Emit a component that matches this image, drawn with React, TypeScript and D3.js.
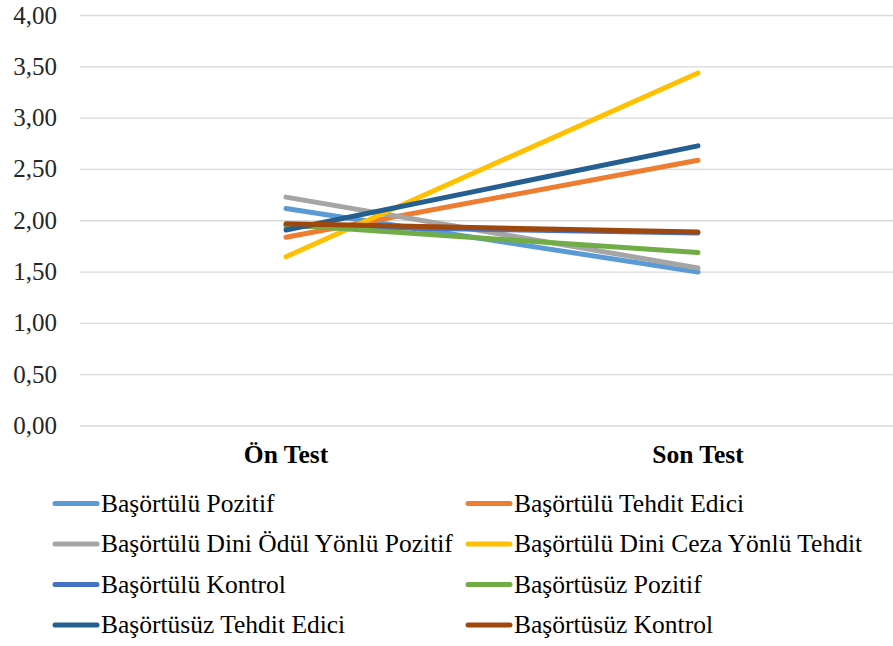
import React from "react";
import * as d3 from "d3";

const categories = ["Ön Test", "Son Test"];
const seriesNames = [
  "Başörtülü Pozitif",
  "Başörtülü Tehdit Edici",
  "Başörtülü Dini Ödül Yönlü Pozitif",
  "Başörtülü Dini Ceza Yönlü Tehdit",
  "Başörtülü Kontrol",
  "Başörtüsüz Pozitif",
  "Başörtüsüz Tehdit Edici",
  "Başörtüsüz Kontrol",
];
const onTest = [2.12, 1.84, 2.23, 1.65, 1.95, 1.96, 1.91, 1.97];
const sonTest = [1.5, 2.59, 1.54, 3.44, 1.88, 1.69, 2.73, 1.89];
const colors = ["#5B9BD5", "#ED7D31", "#A5A5A5", "#FFC000", "#4472C4", "#70AD47", "#255E91", "#9E480E"];
const yTicks = [0, 0.5, 1, 1.5, 2, 2.5, 3, 3.5, 4];

const W = 893;
const H = 646;

export default function App() {
  const x = d3.scalePoint<string>().domain(categories).range([80, 904]).padding(0.5);
  const y = d3.scaleLinear().domain([0, 4]).range([426, 15.5]);
  const line = d3
    .line<[string, number]>()
    .x((d) => x(d[0]) as number)
    .y((d) => y(d[1]));
  const fmt = (v: number) => v.toFixed(2).replace(".", ",");

  const legendCols = [55, 468];
  const legendRows = [503.5, 544, 584.5, 625];

  return (
    <svg className="chart" width={W} height={H} style={{ position: "absolute", left: 0, top: 0, background: "#fff" }}>
      <style>{".chart text { font-family: 'Liberation Serif', 'Times New Roman', Tinos, serif !important; }"}</style>
      {yTicks.map((t) => (
        <line key={"g" + t} x1={80} x2={W} y1={y(t)} y2={y(t)} stroke="#d9d9d9" strokeWidth={1.3} />
      ))}
      {yTicks.map((t) => (
        <text key={"t" + t} x={57} y={y(t) + 8} textAnchor="end" fontSize={25} fill="#262626">
          {fmt(t)}
        </text>
      ))}
      {categories.map((c) => (
        <text key={c} x={x(c)} y={463} textAnchor="middle" fontSize={25.5} fontWeight="bold" fill="#000">
          {c}
        </text>
      ))}
      {seriesNames.map((s, i) => (
        <path
          key={s}
          d={line([
            [categories[0], onTest[i]],
            [categories[1], sonTest[i]],
          ]) as string}
          fill="none"
          stroke={colors[i]}
          strokeWidth={5}
          strokeLinecap="round"
        />
      ))}
      {seriesNames.map((s, i) => (
        <line
          key={"ll" + s}
          x1={legendCols[i % 2]}
          x2={legendCols[i % 2] + 42}
          y1={legendRows[Math.floor(i / 2)]}
          y2={legendRows[Math.floor(i / 2)]}
          stroke={colors[i]}
          strokeWidth={5}
          strokeLinecap="round"
        />
      ))}
      {seriesNames.map((s, i) => (
        <text key={"lt" + s} x={legendCols[i % 2] + 46} y={legendRows[Math.floor(i / 2)] + 8} fontSize={25.5} fill="#000">
          {s}
        </text>
      ))}
    </svg>
  );
}
